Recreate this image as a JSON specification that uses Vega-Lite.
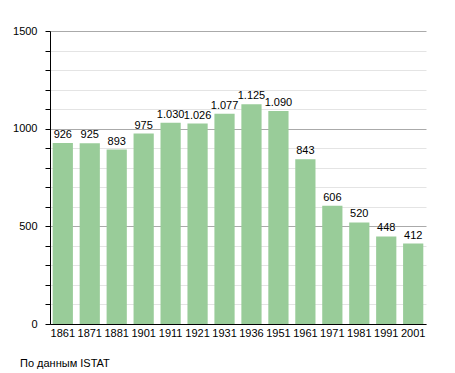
{
  "$schema": "https://vega.github.io/schema/vega-lite/v6.json",
  "width": 376,
  "height": 293,
  "autosize": {"type": "none"},
  "padding": {"left": 50, "top": 31, "right": 29, "bottom": 49},
  "background": "white",
  "config": {"view": {"stroke": null}, "font": "Liberation Sans"},
  "title": {"text": "По данным ISTAT", "orient": "bottom", "anchor": "start", "frame": "group", "dx": -30, "offset": 20, "fontSize": 11, "fontWeight": "normal", "color": "#000"},
  "data": {"values": [
    {"year": "1861", "pop": 926, "label": "926"},
    {"year": "1871", "pop": 925, "label": "925"},
    {"year": "1881", "pop": 893, "label": "893"},
    {"year": "1901", "pop": 975, "label": "975"},
    {"year": "1911", "pop": 1030, "label": "1.030"},
    {"year": "1921", "pop": 1026, "label": "1.026"},
    {"year": "1931", "pop": 1077, "label": "1.077"},
    {"year": "1936", "pop": 1125, "label": "1.125"},
    {"year": "1951", "pop": 1090, "label": "1.090"},
    {"year": "1961", "pop": 843, "label": "843"},
    {"year": "1971", "pop": 606, "label": "606"},
    {"year": "1981", "pop": 520, "label": "520"},
    {"year": "1991", "pop": 448, "label": "448"},
    {"year": "2001", "pop": 412, "label": "412"}
  ]},
  "encoding": {
    "x": {"field": "year", "type": "ordinal", "sort": null,
      "scale": {"paddingInner": 0.25, "paddingOuter": 0.1},
      "axis": {"title": null, "labelAngle": 0, "ticks": false, "domainColor": "#000", "labelColor": "#000", "labelFontSize": 11, "labelPadding": 3, "grid": false}},
    "y": {"field": "pop", "type": "quantitative",
      "scale": {"domain": [0, 1500], "nice": false},
      "axis": {"title": null, "values": [0,100,200,300,400,500,600,700,800,900,1000,1100,1200,1300,1400,1500],
        "labelExpr": "datum.value % 500 === 0 ? datum.value : ''",
        "labelFontSize": 11, "labelColor": "#000", "labelPadding": 8,
        "domainColor": "#000", "tickColor": "#000", "tickSize": 5,
        "grid": true,
        "gridColor": {"condition": {"test": "datum.value % 500 === 0", "value": "#aaaaaa"}, "value": "#e4e4e4"}}}
  },
  "layer": [
    {"mark": {"type": "bar", "color": "#99cc99"}},
    {"mark": {"type": "text", "dy": -8, "fontSize": 11, "color": "#000"},
     "encoding": {"text": {"field": "label"}}}
  ]
}
